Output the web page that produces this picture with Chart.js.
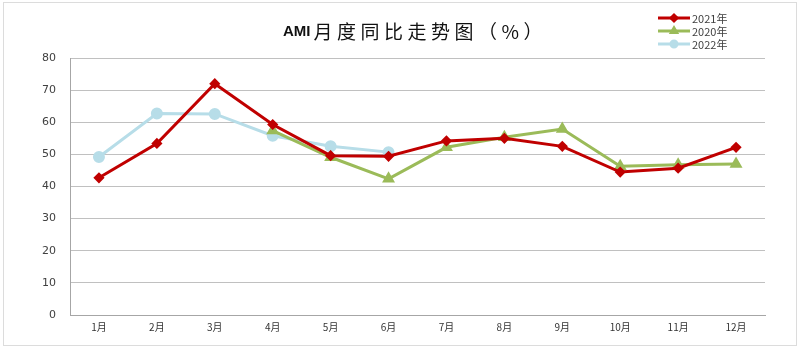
<!DOCTYPE html>
<html>
<head>
<meta charset="utf-8">
<script src="https://cdn.jsdelivr.net/npm/chart.js@4"></script>
<style>
    body { margin: 0; background: #fff; }
    #wrap { position: relative; width: 800px; height: 350px; }
    #frame { position: absolute; left: 3px; top: 2px; width: 792px; height: 342px; border: 1px solid #dcdcdc; pointer-events: none; }
</style>
</head>
<body>
<div id="wrap">
    <canvas id="myChart" width="800" height="350"></canvas>
    <div id="frame"></div>
</div>
<script>
const mois = ["1月", "2月", "3月", "4月", "5月", "6月", "7月", "8月", "9月", "10月", "11月", "12月"];
const serie2021 = [42.7, 53.4, 72.0, 59.3, 49.6, 49.4, 54.2, 55.0, 52.5, 44.5, 45.7, 52.2];
const serie2020 = [null, null, null, 57.4, 49.1, 42.4, 52.2, 55.3, 57.9, 46.3, 46.8, 47.0];
const serie2022 = [49.2, 62.7, 62.6, 55.8, 52.5, 50.7, null, null, null, null, null, null];
const titre = ["AMI", "月度同比走势图（%）"];

const FONT_CJK = "'Noto Sans CJK SC', 'DejaVu Sans', sans-serif";

// Titre et légende dessinés à la main (légende verticale en haut à droite)
const decorPlugin = {
    id: "decor",
    afterDraw(chart) {
        const ctx = chart.ctx;
        ctx.save();

        // titre
        ctx.textBaseline = "middle";
        ctx.fillStyle = "#111";
        ctx.font = "bold 15px 'Liberation Sans', Arial, sans-serif";
        ctx.fillText(titre[0], 283, 32);
        const w1 = ctx.measureText(titre[0]).width;
        ctx.font = "19px " + FONT_CJK;
        ctx.letterSpacing = "4.5px";
        ctx.fillText(titre[1], 283 + w1 + 3, 32);
        ctx.letterSpacing = "0px";

        // légende
        chart.data.datasets.forEach(function (ds, i) {
            const y = 18 + i * 13;
            ctx.strokeStyle = ds.borderColor;
            ctx.lineWidth = 3;
            ctx.beginPath();
            ctx.moveTo(658, y);
            ctx.lineTo(690, y);
            ctx.stroke();
            ctx.fillStyle = ds.pointBackgroundColor;
            ctx.strokeStyle = ds.borderColor;
            Chart.helpers.drawPoint(ctx, {
                pointStyle: ds.pointStyle,
                radius: 3,
                rotation: 0,
                borderWidth: 1
            }, 674, y);
            ctx.fillStyle = "#404040";
            ctx.font = "11px " + FONT_CJK;
            ctx.textBaseline = "middle";
            ctx.fillText(ds.label, 692, y + 1);
        });

        ctx.restore();
    }
};

const canvas = document.getElementById("myChart");
const ctx = canvas.getContext("2d");

new Chart(ctx, {
    type: "line",
    data: {
        labels: mois,
        datasets: [{
            label: "2021年",
            data: serie2021,
            borderColor: "#C00000",
            backgroundColor: "#C00000",
            pointBackgroundColor: "#C00000",
            pointBorderColor: "#C00000",
            pointStyle: "rectRot",
            pointRadius: 3.5,
            borderWidth: 3
        }, {
            label: "2020年",
            data: serie2020,
            borderColor: "#9BBB59",
            backgroundColor: "#9BBB59",
            pointBackgroundColor: "#9BBB59",
            pointBorderColor: "#9BBB59",
            pointStyle: "triangle",
            pointRadius: 4.5,
            borderWidth: 3
        }, {
            label: "2022年",
            data: serie2022,
            borderColor: "#B7DDE8",
            backgroundColor: "#B7DDE8",
            pointBackgroundColor: "#B7DDE8",
            pointBorderColor: "#B7DDE8",
            pointStyle: "circle",
            pointRadius: 4.5,
            borderWidth: 3
        }]
    },
    options: {
        responsive: false,
        animation: false,
        layout: {
            padding: { left: 0, right: 35, top: 58, bottom: 5 }
        },
        plugins: {
            legend: { display: false },
            title: { display: false },
            tooltip: { enabled: false }
        },
        scales: {
            x: {
                offset: true,
                grid: { display: false, drawTicks: false },
                border: { display: true, color: "#a6a6a6", width: 1 },
                ticks: {
                    color: "#333",
                    padding: 6,
                    maxRotation: 0,
                    font: { size: 10, family: FONT_CJK }
                },
                afterFit: function (scale) { scale.height = 30; }
            },
            y: {
                min: 0,
                max: 80,
                grid: { color: "#c0c0c0", lineWidth: 1, drawTicks: false },
                border: { display: true, color: "#a6a6a6", width: 1 },
                ticks: {
                    stepSize: 10,
                    color: "#404040",
                    padding: 14,
                    font: { size: 11, family: "'DejaVu Sans', sans-serif" }
                },
                afterFit: function (scale) { scale.width = 70; }
            }
        }
    },
    plugins: [decorPlugin]
});
</script>
</body>
</html>
